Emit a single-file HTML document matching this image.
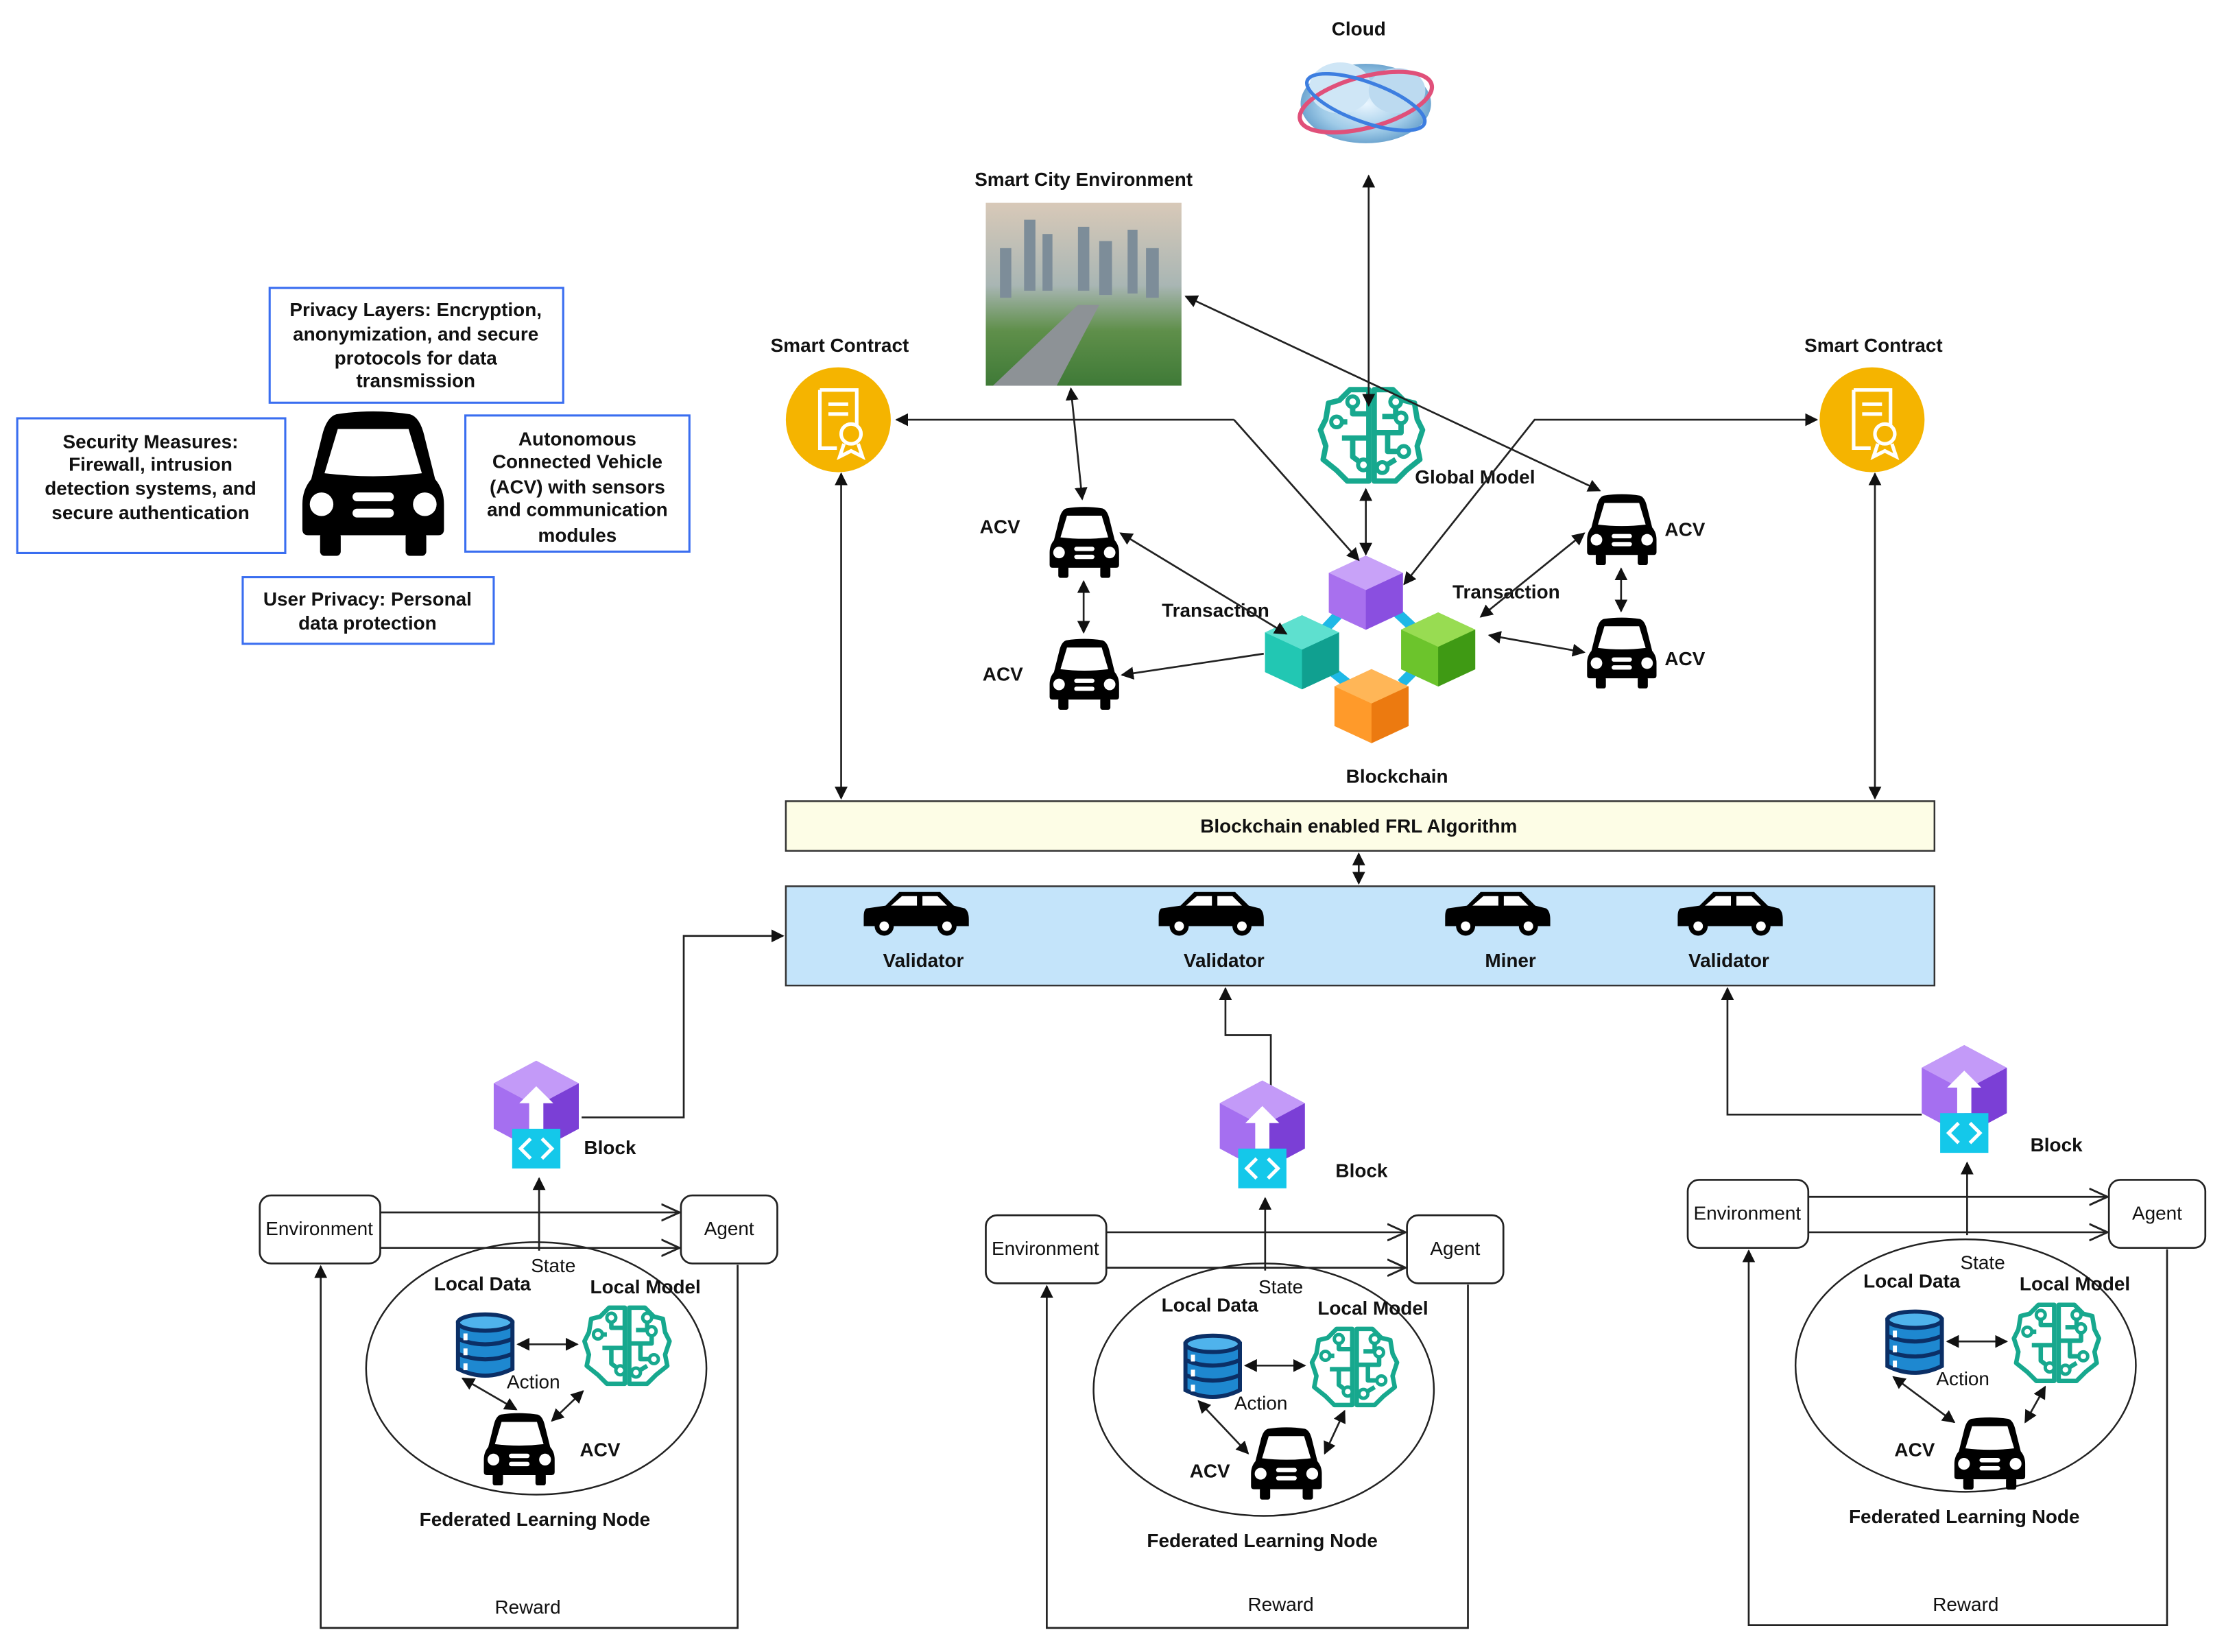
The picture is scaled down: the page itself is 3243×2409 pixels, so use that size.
<!DOCTYPE html>
<html><head><meta charset="utf-8"><style>
html,body{margin:0;padding:0;background:#fff;}
svg{display:block}
text{font-family:"Liberation Sans",Arial,sans-serif;}
.b{font-weight:bold;font-size:13.5px;fill:#111}
.n{font-size:13.5px;fill:#111}
.ln{stroke:#222;stroke-width:1.3;fill:none}
</style></head><body>
<svg width="3243" height="2409" viewBox="0 0 1568 1165" xmlns="http://www.w3.org/2000/svg">
<defs>
<marker id="a" viewBox="0 0 10 10" refX="9" refY="5" markerWidth="7" markerHeight="7" orient="auto-start-reverse"><path d="M0 0L10 5L0 10z" fill="#111"/></marker>
<marker id="o" viewBox="0 0 12 12" refX="11" refY="6" markerWidth="14" markerHeight="14" orient="auto" markerUnits="userSpaceOnUse"><path d="M0 1L11 6L0 11" fill="none" stroke="#222" stroke-width="1.2"/></marker>
<symbol id="car" viewBox="0 0 100 100">
<path d="M25 4Q50 0 75 4Q82 6 85 20L92 48Q98 55 98 65L98 82Q98 86 94 86L6 86Q2 86 2 82L2 65Q2 55 8 48L15 20Q18 6 25 4Z" fill="#000"/>
<path d="M26 14L74 14L83 44Q50 48 17 44Z" fill="#fff"/>
<circle cx="15" cy="65" r="8" fill="#fff"/><circle cx="85" cy="65" r="8" fill="#fff"/>
<rect x="36" y="57" width="28" height="6" rx="3" fill="#fff"/><rect x="36" y="68" width="28" height="6" rx="3" fill="#fff"/>
<rect x="14" y="84" width="14" height="16" rx="3" fill="#000"/><rect x="72" y="84" width="14" height="16" rx="3" fill="#000"/>
</symbol>
<symbol id="scar" viewBox="0 0 80 34">
<path d="M4 14L18 12L28 2L58 2L68 12L76 14Q79 16 79 22L79 27L2 27L2 20Q2 15 4 14Z" fill="#000"/>
<path d="M22 12L30 5L41 5L41 12Z M45 5L56 5L63 12L45 12Z" fill="#fff"/>
<circle cx="17" cy="27" r="7" fill="#000"/><circle cx="17" cy="27" r="3.5" fill="#fff"/>
<circle cx="63" cy="27" r="7" fill="#000"/><circle cx="63" cy="27" r="3.5" fill="#fff"/>
</symbol>
<symbol id="brain" viewBox="0 0 80 76">
<g fill="none" stroke="#17a88e" stroke-width="4" stroke-linejoin="round">
<path d="M38 4L24 4L16 12L8 14L6 26L2 34L6 46L4 56L14 64L22 72L38 72Z"/>
<path d="M42 4L56 4L64 12L72 14L74 26L78 34L74 46L76 56L66 64L58 72L42 72Z"/>
<path d="M38 22L26 22L26 14M38 40L18 40M26 40L26 54L34 60M14 28L22 28M58 14L58 24L48 24M42 36L62 36L62 26M52 36L52 50L64 50M48 62L58 56"/>
</g>
<g fill="#fff" stroke="#17a88e" stroke-width="3"><circle cx="26" cy="13" r="4"/><circle cx="14" cy="28" r="4"/><circle cx="34" cy="60" r="4"/><circle cx="58" cy="13" r="4"/><circle cx="62" cy="25" r="4"/><circle cx="64" cy="50" r="4"/><circle cx="48" cy="62" r="4"/></g>
</symbol>
<symbol id="db" viewBox="0 0 44 50">
<g stroke="#0b2f66" stroke-width="3">
<path d="M2 8L2 42Q22 52 42 42L42 8Z" fill="#1e88d0"/>
<ellipse cx="22" cy="8" rx="20" ry="6" fill="#4fb3ec"/>
<path d="M2 20Q22 28 42 20M2 31Q22 39 42 31" fill="none"/>
</g>
<rect x="6" y="16" width="3" height="5" fill="#fff"/><rect x="6" y="27" width="3" height="5" fill="#fff"/><rect x="6" y="38" width="3" height="5" fill="#fff"/>
</symbol>
<symbol id="blk" viewBox="0 0 64 82">
<path d="M32 0L62 16L62 48L32 64L2 48L2 16Z" fill="#a56ff0"/>
<path d="M32 0L62 16L32 32L2 16Z" fill="#c39af8"/>
<path d="M32 32L62 16L62 48L32 64Z" fill="#7b3fd6"/>
<path d="M32 18L44 30L37 30L37 48L27 48L27 30L20 30Z" fill="#fff"/>
<rect x="15" y="48" width="34" height="28" fill="#14c8ea"/>
<path d="M28 55L21 62L28 69M36 55L43 62L36 69" fill="none" stroke="#fff" stroke-width="2.5"/>
</symbol>
<symbol id="cube" viewBox="0 0 60 60">
<path d="M30 2L58 15L58 45L30 58L2 45L2 15Z" fill="var(--m)"/>
<path d="M30 2L58 15L30 28L2 15Z" fill="var(--t)"/>
<path d="M30 28L58 15L58 45L30 58Z" fill="var(--d)"/>
</symbol>
<linearGradient id="city" x1="0" y1="0" x2="0" y2="1"><stop offset="0" stop-color="#d8c9b8"/><stop offset="0.45" stop-color="#a9b6b4"/><stop offset="0.7" stop-color="#5f8f4a"/><stop offset="1" stop-color="#3f7a37"/></linearGradient>
<radialGradient id="cl"><stop offset="0" stop-color="#eaf6ff"/><stop offset="0.7" stop-color="#9fcbe8"/><stop offset="1" stop-color="#6fa6d0"/></radialGradient>
</defs>

<!-- Left security panel -->
<rect x="190" y="203" width="207" height="81" fill="#fff" stroke="#3a6ef0" stroke-width="1.5"/>
<text class="b" text-anchor="middle"><tspan x="293" y="223">Privacy Layers: Encryption,</tspan><tspan x="293" y="240">anonymization, and secure</tspan><tspan x="293" y="257">protocols for data</tspan><tspan x="293" y="273">transmission</tspan></text>
<rect x="12" y="295" width="189" height="95" fill="#fff" stroke="#3a6ef0" stroke-width="1.5"/>
<text class="b" text-anchor="middle"><tspan x="106" y="316">Security Measures:</tspan><tspan x="106" y="332">Firewall, intrusion</tspan><tspan x="106" y="349">detection systems, and</tspan><tspan x="106" y="366">secure authentication</tspan></text>
<rect x="328" y="293" width="158" height="96" fill="#fff" stroke="#3a6ef0" stroke-width="1.5"/>
<text class="b" text-anchor="middle"><tspan x="407" y="314">Autonomous</tspan><tspan x="407" y="330">Connected Vehicle</tspan><tspan x="407" y="348">(ACV) with sensors</tspan><tspan x="407" y="364">and communication</tspan><tspan x="407" y="382">modules</tspan></text>
<rect x="171" y="407" width="177" height="47" fill="#fff" stroke="#3a6ef0" stroke-width="1.5"/>
<text class="b" text-anchor="middle"><tspan x="259" y="427">User Privacy: Personal</tspan><tspan x="259" y="444">data protection</tspan></text>
<use href="#car" x="200" y="288" width="126" height="104" preserveAspectRatio="none"/>

<!-- Cloud -->
<text class="b" x="958" y="25" text-anchor="middle">Cloud</text>
<ellipse cx="963" cy="73" rx="46" ry="28" fill="url(#cl)"/>
<ellipse cx="945" cy="62" rx="22" ry="18" fill="#cfe6f6"/><ellipse cx="985" cy="64" rx="20" ry="16" fill="#bcdaf0"/>
<ellipse cx="963" cy="72" rx="48" ry="18" fill="none" stroke="#e0507a" stroke-width="3" transform="rotate(-15 963 72)"/>
<ellipse cx="963" cy="72" rx="44" ry="14" fill="none" stroke="#3d7ee0" stroke-width="2.5" transform="rotate(20 963 72)"/>

<!-- Smart city -->
<text class="b" x="764" y="131" text-anchor="middle">Smart City Environment</text>
<rect x="695" y="143" width="138" height="129" fill="url(#city)"/>
<g fill="#7d8d99"><rect x="722" y="155" width="8" height="50"/><rect x="735" y="165" width="7" height="40"/><rect x="760" y="160" width="8" height="45"/><rect x="775" y="170" width="9" height="38"/><rect x="795" y="162" width="7" height="45"/><rect x="808" y="175" width="9" height="35"/><rect x="705" y="175" width="8" height="35"/></g>
<path d="M700 272L760 215L775 215L745 272Z" fill="#8d9296"/>

<!-- Smart contracts -->
<text class="b" x="592" y="248" text-anchor="middle">Smart Contract</text>
<circle cx="591" cy="296" r="37" fill="#f5b400"/>
<g fill="none" stroke="#fff" stroke-width="2.5"><path d="M578 275L604 275L604 300M578 275L578 316L590 316"/><path d="M584 285L598 285M584 292L598 292"/><circle cx="600" cy="306" r="7"/><path d="M595 313L592 322L600 318L608 322L605 313"/></g>
<text class="b" x="1321" y="248" text-anchor="middle">Smart Contract</text>
<circle cx="1320" cy="296" r="37" fill="#f5b400"/>
<g fill="none" stroke="#fff" stroke-width="2.5"><path d="M1307 275L1333 275L1333 300M1307 275L1307 316L1319 316"/><path d="M1313 285L1327 285M1313 292L1327 292"/><circle cx="1329" cy="306" r="7"/><path d="M1324 313L1321 322L1329 318L1337 322L1334 313"/></g>

<!-- Global model -->
<use href="#brain" x="929" y="271" width="76" height="72"/>
<text class="b" x="1040" y="341" text-anchor="middle">Global Model</text>

<!-- ACVs top -->
<use href="#car" x="739" y="354" width="51" height="56"/>
<use href="#car" x="739" y="447" width="51" height="56"/>
<use href="#car" x="1118" y="345" width="51" height="56"/>
<use href="#car" x="1118" y="432" width="51" height="56"/>
<text class="b" x="705" y="376" text-anchor="middle">ACV</text>
<text class="b" x="707" y="480" text-anchor="middle">ACV</text>
<text class="b" x="1188" y="378" text-anchor="middle">ACV</text>
<text class="b" x="1188" y="469" text-anchor="middle">ACV</text>
<text class="b" x="857" y="435" text-anchor="middle">Transaction</text>
<text class="b" x="1062" y="422" text-anchor="middle">Transaction</text>

<!-- Blockchain cubes -->
<g stroke="#1fb8e6" stroke-width="7"><line x1="945" y1="432" x2="930" y2="448"/><line x1="985" y1="432" x2="1000" y2="446"/><line x1="935" y1="470" x2="950" y2="482"/><line x1="1000" y1="470" x2="988" y2="482"/></g>
<use href="#cube" x="935" y="390" width="56" height="56" style="--m:#a870ee;--t:#c8a2f8;--d:#8a4fe0"/>
<use href="#cube" x="890" y="432" width="56" height="56" style="--m:#22c7b3;--t:#5ee0cf;--d:#10a090"/>
<use href="#cube" x="986" y="430" width="56" height="56" style="--m:#6cc42c;--t:#98dc52;--d:#3f9a14"/>
<use href="#cube" x="939" y="470" width="56" height="56" style="--m:#ff9a2a;--t:#ffb657;--d:#ec7a10"/>
<text class="b" x="985" y="552" text-anchor="middle">Blockchain</text>

<!-- Top connectors -->
<g class="ln">
<line x1="965" y1="124" x2="965" y2="286" marker-start="url(#a)" marker-end="url(#a)"/>
<line x1="963" y1="345" x2="963" y2="391" marker-start="url(#a)" marker-end="url(#a)"/>
<line x1="836" y1="209" x2="1128" y2="346" marker-start="url(#a)" marker-end="url(#a)"/>
<polyline points="870,296 632,296" marker-end="url(#a)"/>
<line x1="870" y1="296" x2="958" y2="395" marker-end="url(#a)"/>
<polyline points="990,412 1082,296 1281,296" marker-start="url(#a)" marker-end="url(#a)"/>
<line x1="755" y1="274" x2="763" y2="352" marker-start="url(#a)" marker-end="url(#a)"/>
<line x1="764" y1="410" x2="764" y2="446" marker-start="url(#a)" marker-end="url(#a)"/>
<line x1="790" y1="376" x2="907" y2="447" marker-start="url(#a)" marker-end="url(#a)"/>
<line x1="891" y1="461" x2="791" y2="476" marker-end="url(#a)"/>
<line x1="1117" y1="376" x2="1044" y2="435" marker-start="url(#a)" marker-end="url(#a)"/>
<line x1="1117" y1="460" x2="1050" y2="448" marker-start="url(#a)" marker-end="url(#a)"/>
<line x1="1143" y1="401" x2="1143" y2="431" marker-start="url(#a)" marker-end="url(#a)"/>
<line x1="593" y1="334" x2="593" y2="563" marker-start="url(#a)" marker-end="url(#a)"/>
<line x1="1322" y1="334" x2="1322" y2="563" marker-start="url(#a)" marker-end="url(#a)"/>
<line x1="958" y1="602" x2="958" y2="623" marker-start="url(#a)" marker-end="url(#a)"/>
</g>

<!-- FRL bar -->
<rect x="554" y="565" width="810" height="35" fill="#fdfde6" stroke="#333" stroke-width="1.2"/>
<text class="b" x="958" y="587" text-anchor="middle">Blockchain enabled FRL Algorithm</text>
<rect x="554" y="625" width="810" height="70" fill="#c4e4fa" stroke="#333" stroke-width="1.2"/>
<use href="#scar" x="607" y="627" width="77" height="33"/>
<use href="#scar" x="815" y="627" width="77" height="33"/>
<use href="#scar" x="1017" y="627" width="77" height="33"/>
<use href="#scar" x="1181" y="627" width="77" height="33"/>
<text class="b" x="651" y="682" text-anchor="middle">Validator</text>
<text class="b" x="863" y="682" text-anchor="middle">Validator</text>
<text class="b" x="1065" y="682" text-anchor="middle">Miner</text>
<text class="b" x="1219" y="682" text-anchor="middle">Validator</text>

<!-- Block connectors -->
<g class="ln">
<polyline points="410,788 482,788 482,660 552,660" marker-end="url(#a)"/>
<polyline points="896,766 896,730 864,730 864,697" marker-end="url(#a)"/>
<polyline points="1355,786 1218,786 1218,697" marker-end="url(#a)"/>
</g>

<!-- FL node templates -->
<g id="flt">
<use href="#blk" x="346" y="748" width="64" height="82"/>
<rect x="183" y="843" width="85" height="48" rx="8" fill="#fff" stroke="#222" stroke-width="1.3"/>
<text class="n" x="225" y="871" text-anchor="middle">Environment</text>
<rect x="480" y="843" width="68" height="48" rx="8" fill="#fff" stroke="#222" stroke-width="1.3"/>
<text class="n" x="514" y="871" text-anchor="middle">Agent</text>
<g class="ln">
<line x1="268" y1="855" x2="479" y2="855" marker-end="url(#o)"/>
<line x1="268" y1="880" x2="479" y2="880" marker-end="url(#o)"/>
<line x1="380" y1="882" x2="380" y2="831" marker-end="url(#a)"/>
</g>
</g>
<g id="fli">
<ellipse cx="378" cy="965" rx="120" ry="89" fill="none" stroke="#222" stroke-width="1.2"/>
<text class="n" x="390" y="897" text-anchor="middle">State</text>
<text class="b" x="340" y="910" text-anchor="middle">Local Data</text>
<text class="b" x="455" y="912" text-anchor="middle">Local Model</text>
<use href="#db" x="320" y="925" width="44" height="48"/>
<use href="#brain" x="410" y="919" width="64" height="60"/>
<text class="n" x="376" y="979" text-anchor="middle">Action</text>
<line class="ln" x1="365" y1="948" x2="407" y2="948" marker-start="url(#a)" marker-end="url(#a)"/>
<text class="b" x="377" y="1076" text-anchor="middle">Federated Learning Node</text>
</g>
<text class="b" x="430" y="814" text-anchor="middle">Block</text>
<use href="#car" x="340" y="993" width="52" height="57"/>
<text class="b" x="423" y="1027" text-anchor="middle">ACV</text>
<g class="ln">
<line x1="326" y1="972" x2="364" y2="994" marker-start="url(#a)" marker-end="url(#a)"/>
<line x1="389" y1="1002" x2="411" y2="981" marker-start="url(#a)" marker-end="url(#a)"/>
</g>

<!-- middle -->
<use href="#flt" transform="translate(512,14)"/>
<use href="#fli" transform="translate(513,15)"/>
<text class="b" x="960" y="830" text-anchor="middle">Block</text>
<use href="#car" x="881" y="1003" width="52" height="57"/>
<text class="b" x="853" y="1042" text-anchor="middle">ACV</text>
<g class="ln">
<line x1="845" y1="988" x2="880" y2="1025" marker-start="url(#a)" marker-end="url(#a)"/>
<line x1="948" y1="995" x2="934" y2="1025" marker-start="url(#a)" marker-end="url(#a)"/>
</g>

<!-- right -->
<use href="#flt" transform="translate(1007,-11)"/>
<use href="#fli" transform="translate(1008,-2)"/>
<text class="b" x="1450" y="812" text-anchor="middle">Block</text>
<use href="#car" x="1377" y="996" width="52" height="57"/>
<text class="b" x="1350" y="1027" text-anchor="middle">ACV</text>
<g class="ln">
<line x1="1335" y1="971" x2="1378" y2="1003" marker-start="url(#a)" marker-end="url(#a)"/>
<line x1="1442" y1="978" x2="1428" y2="1003" marker-start="url(#a)" marker-end="url(#a)"/>
</g>

<!-- Reward loops -->
<g class="ln">
<polyline points="520,892 520,1148 226,1148 226,893" marker-end="url(#a)"/>
<polyline points="1035,906 1035,1148 738,1148 738,907" marker-end="url(#a)"/>
<polyline points="1528,881 1528,1146 1233,1146 1233,882" marker-end="url(#a)"/>
</g>
<text class="n" x="372" y="1138" text-anchor="middle">Reward</text>
<text class="n" x="903" y="1136" text-anchor="middle">Reward</text>
<text class="n" x="1386" y="1136" text-anchor="middle">Reward</text>
</svg>
</body></html>
